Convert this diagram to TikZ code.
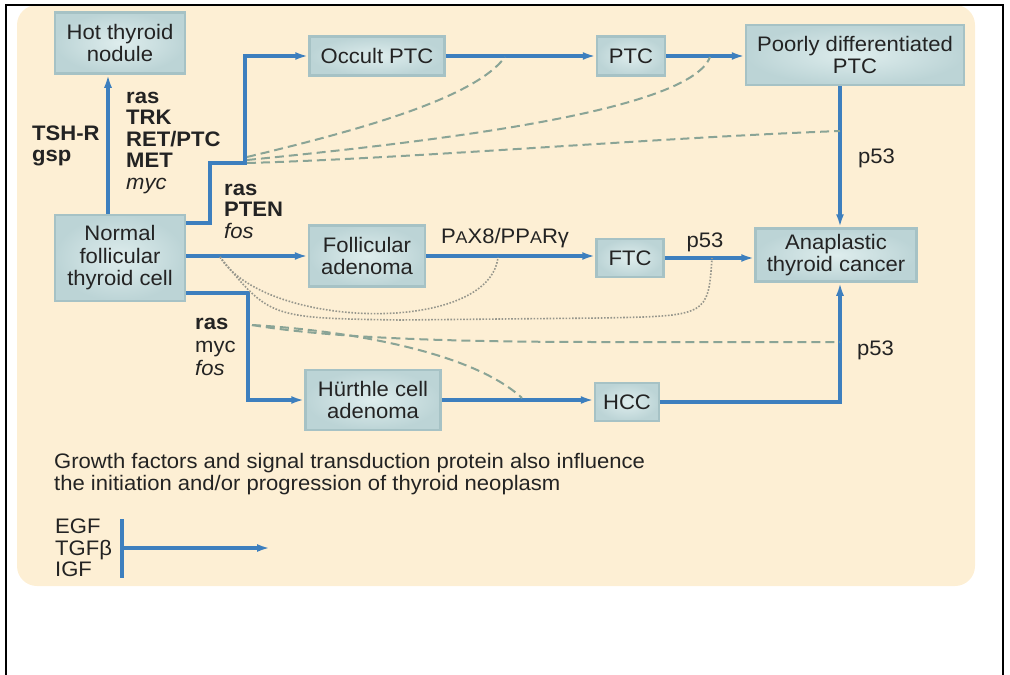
\documentclass[tikz,border=0pt]{standalone}
\usepackage{fontspec}
\setmainfont{Liberation Sans}[FakeStretch=1.05]
\usepackage{xcolor}
\usetikzlibrary{arrows.meta}

\definecolor{panel}{RGB}{253,239,212}
\definecolor{flowblue}{RGB}{61,127,190}
\definecolor{boxin}{RGB}{222,237,237}
\definecolor{boxout}{RGB}{188,212,214}
\definecolor{boxedge}{RGB}{166,194,197}
\definecolor{dashgreen}{RGB}{138,164,150}
\definecolor{dotgray}{RGB}{150,150,140}
\definecolor{ink}{RGB}{35,35,35}

\tikzset{
  cellbox/.style={draw=boxedge, line width=2.5pt, inner color=boxin, outer color=boxout,
    align=center, inner sep=0pt, text=ink, font=\fontsize{21}{22.5}\selectfont},
  genes/.style={anchor=west, align=left, inner sep=0pt, text=ink, font=\fontsize{21}{21.5}\selectfont},
  flow/.style={line width=3.5pt, flowblue, -{Latex[length=13pt,width=8pt]}},
  hintdash/.style={line width=2pt, dashgreen, dash pattern=on 9pt off 5pt},
  hintdot/.style={line width=1.6pt, dotgray, dash pattern=on 1.6pt off 1.6pt}
}

\begin{document}
\begin{tikzpicture}[x=1pt, y=-1pt]
\useasboundingbox (0,0) rectangle (1010,675);

% Fundo e moldura
\fill[panel, rounded corners=20pt] (17,5) rectangle (975,586);
\draw[line width=1.2pt] (5,5) -- (1004,5);
\draw[line width=2.2pt] (6,5) -- (6,675);
\draw[line width=2.5pt] (1003,5) -- (1003,675);

% Caixas
\node[cellbox, minimum width=130, minimum height=61] (hot) at (120,43) {Hot thyroid\\nodule};
\node[cellbox, minimum width=135, minimum height=39] (occult) at (377,56) {Occult PTC};
\node[cellbox, minimum width=68, minimum height=39] (ptc) at (631,56) {PTC};
\node[cellbox, minimum width=218, minimum height=60] (poor) at (855,55) {Poorly differentiated\\PTC};
\node[cellbox, minimum width=130, minimum height=86] (normal) at (120,258) {Normal\\follicular\\thyroid cell};
\node[cellbox, minimum width=116, minimum height=61] (folad) at (367,256) {Follicular\\adenoma};
\node[cellbox, minimum width=67, minimum height=38] (ftc) at (630,258) {FTC};
\node[cellbox, minimum width=161, minimum height=53] (ana) at (836,255) {Anaplastic\\thyroid cancer};
\node[cellbox, minimum width=135, minimum height=60] (hurthle) at (373,400) {Hürthle cell\\adenoma};
\node[cellbox, minimum width=64, minimum height=38] (hcc) at (627,402) {HCC};

% Pontos de dobra
\coordinate (b1) at (210,163);
\coordinate (b2) at (245,56);
\coordinate (b3) at (248,400);
\coordinate (vx) at (840,0);

% Setas principais
\draw[flow] ([xshift=-12pt]normal.north) -- ([xshift=-12pt]hot.south);
\draw[flow] ([yshift=35pt]normal.east) -| (b1) -| (b2) -- (b2 -| occult.west);
\draw[flow] (normal.east |- folad.west) -- (folad.west);
\draw[flow] ([yshift=-35pt]normal.east) -| (b3) -- (hurthle.west);
\draw[flow] (occult.east) -- (ptc.west);
\draw[flow] (ptc.east) -- (ptc.east -| poor.west);
\draw[flow] (poor.south -| vx) -- (ana.north -| vx);
\draw[flow] (folad.east) -- (folad.east -| ftc.west);
\draw[flow] (ftc.east) -- (ftc.east -| ana.west);
\draw[flow] (hurthle.east) -- (hurthle.east -| hcc.west);
\draw[flow] (hcc.east) -| (ana.south -| vx);

% Linhas tracejadas
\coordinate (d1) at (247,157);
\coordinate (d2) at (247,160);
\coordinate (d3) at (247,163);
\coordinate (d4) at (252,325);
\draw[hintdash] (d1) .. controls (360,130) and (475,98) .. (505,57);
\draw[hintdash] (d2) .. controls (450,140) and (690,110) .. (710,57);
\draw[hintdash] (d3) .. controls (420,158) and (650,138) .. (840,131);
\draw[hintdash] (d4) .. controls (330,338) and (450,342) .. (600,342) -- (840,342);
\draw[hintdash] (d4) .. controls (340,330) and (470,350) .. (522,398);

% Linhas pontilhadas
\coordinate (p1) at (220,257);
\draw[hintdot] (p1) .. controls (265,330) and (490,335) .. (498,257);
\draw[hintdot] (p1) .. controls (270,318) .. (400,320) -- (600,318) .. controls (708,316) .. (712,258);

% Rotulos dos genes
\node[genes] (tsh) at (32,146) {\textbf{TSH-R}\\\textbf{gsp}};
\node[genes] (hotgenes) at (126,143) {\textbf{ras}\\\textbf{TRK}\\\textbf{RET/PTC}\\\textbf{MET}\\\textit{myc}};
\node[genes] (ptcgenes) at (224,211) {\textbf{ras}\\\textbf{PTEN}\\\textit{fos}};
\node[genes, font=\fontsize{21}{23}\selectfont] (hurgenes) at (195,347) {\textbf{ras}\\myc\\\textit{fos}};
\node[genes, anchor=center] (pax) at (505,238) {P{\fontsize{17}{17}\selectfont A}X8/PP{\fontsize{17}{17}\selectfont A}Rγ};
\node[genes] (p53a) at (858,158) {p53};
\node[genes, anchor=center] (p53b) at (705,242) {p53};
\node[genes] (p53c) at (857,350) {p53};

% Nota e fatores de crescimento
\node[genes, font=\fontsize{21}{22}\selectfont] (note) at (54,474)
  {Growth factors and signal transduction protein also influence\\the initiation and/or progression of thyroid neoplasm};
\node[genes] (growth) at (55,548) {EGF\\TGFβ\\IGF};
\coordinate (bartop) at (122,519);
\coordinate (barbot) at (122,578);
\coordinate (barmid) at (122,548);
\coordinate (barend) at (270,548);
\draw[line width=4pt, flowblue] (bartop) -- (barbot);
\draw[flow] (barmid) -- (barend);

\end{tikzpicture}
\end{document}
